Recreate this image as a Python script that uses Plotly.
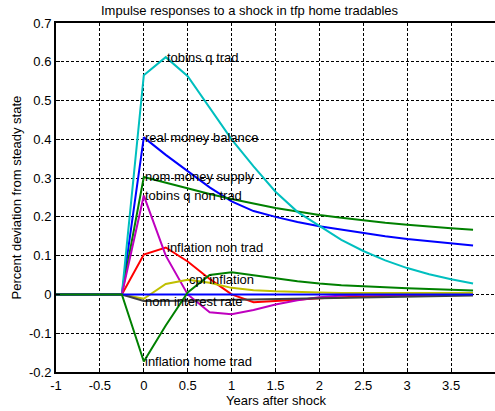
import plotly.graph_objects as go

years = [-1, -0.75, -0.5, -0.25, 0, 0.25, 0.5, 0.75, 1, 1.25, 1.5, 1.75, 2,
         2.25, 2.5, 2.75, 3, 3.25, 3.5, 3.75]

real_money_balance = [0, 0, 0, 0, 0.405, 0.36, 0.318, 0.276, 0.24, 0.215, 0.2, 0.187,
                      0.176, 0.167, 0.158, 0.15, 0.143, 0.137, 0.131, 0.126]
nom_money_supply = [0, 0, 0, 0, 0.303, 0.288, 0.273, 0.259, 0.246, 0.234, 0.223, 0.214,
                    0.205, 0.198, 0.191, 0.185, 0.18, 0.175, 0.171, 0.167]
inflation_non_trad = [0, 0, 0, 0, 0.103, 0.121, 0.085, 0.04, 0.0, -0.02, -0.017, -0.013,
                      -0.01, -0.007, -0.005, -0.003, -0.002, -0.001, -0.001, -0.001]
tobins_q_trad = [0, 0, 0, 0, 0.565, 0.612, 0.563, 0.48, 0.40, 0.33, 0.265, 0.213,
                 0.176, 0.141, 0.112, 0.088, 0.068, 0.052, 0.039, 0.028]
tobins_q_non_trad = [0, 0, 0, 0, 0.255, 0.1, 0.0, -0.046, -0.051, -0.04, -0.026, -0.015,
                     -0.007, -0.003, -0.001, 0, 0, 0, 0, 0]
cpi_inflation = [0, 0, 0, 0, -0.011, 0.027, 0.038, 0.03, 0.017, 0.011, 0.008, 0.006,
                 0.005, 0.004, 0.004, 0.004, 0.004, 0.004, 0.004, 0.004]
nom_interest_rate = [0, 0, 0, 0, -0.017, -0.017, -0.016, -0.015, -0.014, -0.013, -0.012,
                     -0.01, -0.009, -0.008, -0.007, -0.006, -0.005, -0.004, -0.004, -0.003]
zero_series = [0] * 20
inflation_home_trad = [0, 0, 0, 0, -0.173, -0.08, 0.005, 0.05, 0.057, 0.05, 0.042, 0.034,
                       0.028, 0.024, 0.021, 0.018, 0.016, 0.014, 0.012, 0.01]

series = [
    ("real money balance", real_money_balance, "rgb(0,0,255)"),
    ("nom money supply", nom_money_supply, "rgb(0,128,0)"),
    ("inflation non trad", inflation_non_trad, "rgb(255,0,0)"),
    ("tobins q trad", tobins_q_trad, "rgb(0,191,191)"),
    ("tobins q non trad", tobins_q_non_trad, "rgb(191,0,191)"),
    ("cpi inflation", cpi_inflation, "rgb(191,191,0)"),
    ("nom interest rate", nom_interest_rate, "rgb(64,64,64)"),
    (None, zero_series, "rgb(0,0,255)"),
    ("inflation home trad", inflation_home_trad, "rgb(0,128,0)"),
]

FONT = "Liberation Sans, Arial, sans-serif"
fig = go.Figure()
annotations = []
for name, vals, col in series:
    fig.add_trace(go.Scatter(x=years, y=vals, mode="lines",
                             line=dict(color=col, width=2), showlegend=False))
    if name:
        i = max(range(len(vals)), key=lambda k: abs(vals[k]))
        annotations.append(dict(x=years[i], y=vals[i], text=name, showarrow=False,
                                xanchor="left", yanchor="middle", borderpad=0,
                                font=dict(family=FONT, size=13, color="black")))

L, R, T, B = 56, 0, 23, 39
W, H = 495, 411
pw, ph = W - L - R, H - T - B

annotations.append(dict(xref="paper", yref="paper", x=0.5, y=-(400 - 372) / ph,
                        text="Years after shock", showarrow=False,
                        xanchor="center", yanchor="middle",
                        font=dict(family=FONT, size=13, color="black")))
annotations.append(dict(xref="paper", yref="paper", x=(16 - L) / pw, y=0.5,
                        text="Percent deviation from steady state", showarrow=False,
                        textangle=-90, xanchor="center", yanchor="middle",
                        font=dict(family=FONT, size=13, color="black")))
annotations.append(dict(xref="paper", yref="paper", x=(249 - L) / pw, y=1 + (T - 10) / ph,
                        text="Impulse responses to a shock in tfp home tradables",
                        showarrow=False, xanchor="center", yanchor="middle",
                        font=dict(family=FONT, size=13, color="black")))

axis_common = dict(showgrid=True, gridcolor="black", gridwidth=1, griddash="3px,2px",
                   zeroline=False, showline=True, linecolor="black", linewidth=2,
                   mirror=True, ticks="inside", ticklen=4, tickcolor="black",
                   automargin=False,
                   tickfont=dict(family=FONT, size=13, color="black"))

fig.update_layout(
    width=W, height=H,
    margin=dict(l=L, r=R, t=T, b=B, pad=0),
    paper_bgcolor="white", plot_bgcolor="white",
    xaxis=dict(range=[-1, 4], tickvals=[-1, -0.5, 0, 0.5, 1, 1.5, 2, 2.5, 3, 3.5, 4],
               ticktext=["-1", "-0.5", "0", "0.5", "1", "1.5", "2", "2.5", "3", "3.5", "4"],
               **axis_common),
    yaxis=dict(range=[-0.2, 0.7], tickvals=[-0.2, -0.1, 0, 0.1, 0.2, 0.3, 0.4, 0.5, 0.6, 0.7],
               ticktext=["-0.2", "-0.1", "0", "0.1", "0.2", "0.3", "0.4", "0.5", "0.6", "0.7"],
               **axis_common),
    annotations=annotations,
)

fig.write_html("out.html", config={"displayModeBar": False},
               post_script="document.body.style.margin='0';document.body.style.overflow='hidden';")
